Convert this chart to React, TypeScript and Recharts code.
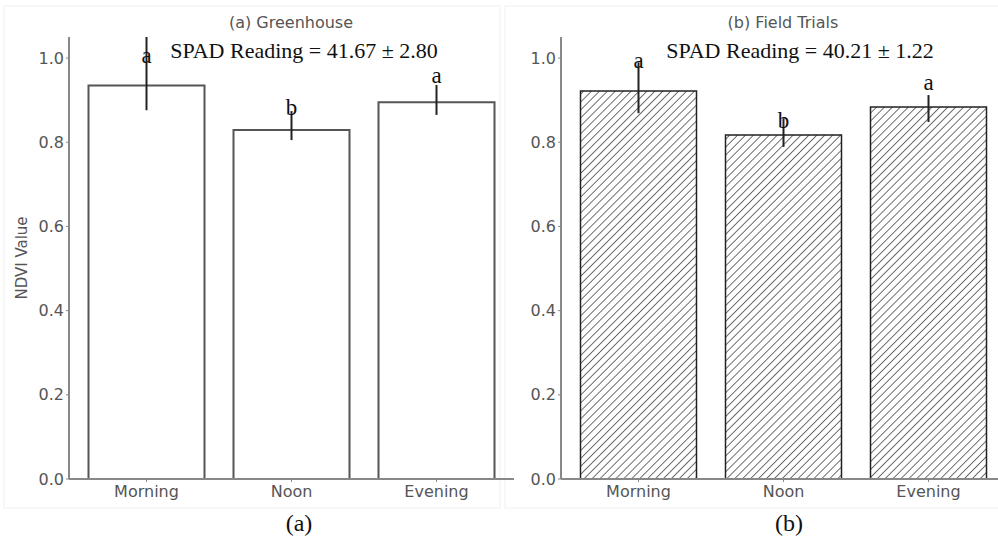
import React from 'react';
import { BarChart, Bar, XAxis, YAxis, ErrorBar, ReferenceDot } from 'recharts';

const categories = ['Morning', 'Noon', 'Evening'];
const greenhouseNdvi = [0.935, 0.829, 0.895];
const greenhouseErrLow = [0.059, 0.024, 0.03];
const greenhouseErrHigh = [0.115, 0.045, 0.041];
const greenhouseLetters = ['a', 'b', 'a'];
const greenhouseLetterY = [0.988, 0.865, 0.941];
const fieldNdvi = [0.922, 0.817, 0.884];
const fieldErrLow = [0.053, 0.028, 0.036];
const fieldErrHigh = [0.068, 0.04, 0.028];
const fieldLetters = ['a', 'b', 'a'];
const fieldLetterY = [0.976, 0.834, 0.924];
const yTicks = [0, 0.2, 0.4, 0.6, 0.8, 1.0];
const panelTitles = ['(a) Greenhouse', '(b) Field Trials'];
const spadTexts = ['SPAD Reading = 41.67 ± 2.80', 'SPAD Reading = 40.21 ± 1.22'];
const panelCaptions = ['(a)', '(b)'];
const yLabel = 'NDVI Value';

const SANS = 'DejaVu Sans';
const SERIF = 'Liberation Serif, Times New Roman, serif';

type PanelProps = {
  left: number;
  values: number[];
  errLow: number[];
  errHigh: number[];
  letters: string[];
  letterY: number[];
  hatched: boolean;
  showYLabel: boolean;
  id: string;
};

function Panel(p: PanelProps) {
  const data = categories.map((name, i) => ({
    name,
    value: p.values[i],
    err: [p.errLow[i], p.errHigh[i]],
  }));
  const tickStyle = { fill: '#555', fontSize: 16, fontFamily: SANS };
  return (
    <div style={{ position: 'absolute', left: p.left, top: 0 }}>
      <BarChart
        width={520}
        height={539}
        data={data}
        margin={{ top: 37, right: 6, bottom: 30, left: 9 }}
        barCategoryGap="10%"
      >
        <defs>
          <pattern
            id={p.id}
            width={5.6}
            height={5.6}
            patternUnits="userSpaceOnUse"
            patternTransform="rotate(45)"
          >
            <rect x={0} y={0} width={5.6} height={5.6} fill="#fff" />
            <line x1={0} y1={0} x2={0} y2={5.6} stroke="#222" strokeWidth={1.3} />
          </pattern>
        </defs>
        <XAxis
          dataKey="name"
          height={30}
          padding={{ left: 5, right: 5 }}
          axisLine={{ stroke: '#888', strokeWidth: 2 }}
          tickLine={{ stroke: '#888' }}
          tickSize={3}
          tickMargin={4}
          tick={tickStyle}
        />
        <YAxis
          type="number"
          domain={[0, 1.05]}
          ticks={yTicks}
          allowDataOverflow
          width={60}
          axisLine={{ stroke: '#888', strokeWidth: 2 }}
          tickLine={{ stroke: '#888' }}
          tickSize={3}
          tick={tickStyle}
          tickFormatter={(v: number) => v.toFixed(1)}
          label={
            p.showYLabel
              ? {
                  value: yLabel,
                  angle: -90,
                  position: 'insideLeft',
                  offset: 0,
                  dx: 13,
                  style: { fill: '#555', fontSize: 15, fontFamily: SANS, textAnchor: 'middle' },
                }
              : undefined
          }
        />
        <Bar
          dataKey="value"
          fill={p.hatched ? `url(#${p.id})` : '#fff'}
          stroke={p.hatched ? '#222' : '#555'}
          strokeWidth={p.hatched ? 1.5 : 2}
          isAnimationActive={false}
        >
          <ErrorBar dataKey="err" width={0} stroke="#222" strokeWidth={2} isAnimationActive={false} />
        </Bar>
        {categories.map((c, i) => (
          <ReferenceDot
            key={c}
            x={c}
            y={p.letterY[i]}
            r={0}
            ifOverflow="visible"
            shape={(sp: any) => (
              <text
                x={sp.cx}
                y={sp.cy}
                textAnchor="middle"
                fontFamily={SERIF}
                fontSize={23}
                fill="#111"
              >
                {p.letters[i]}
              </text>
            )}
          />
        ))}
      </BarChart>
    </div>
  );
}

export default function App() {
  return (
    <div
      style={{
        position: 'absolute',
        left: 0,
        top: 0,
        width: 998,
        height: 539,
        overflow: 'hidden',
        background: '#fff',
      }}
    >
      <svg width={998} height={539} style={{ position: 'absolute', left: 0, top: 0 }}>
        <rect x={4} y={6} width={496} height={502} fill="none" stroke="#f0f0f0" />
        <rect x={505} y={6} width={500} height={502} fill="none" stroke="#f0f0f0" />
      </svg>
      <Panel
        id="hatchA"
        left={0}
        values={greenhouseNdvi}
        errLow={greenhouseErrLow}
        errHigh={greenhouseErrHigh}
        letters={greenhouseLetters}
        letterY={greenhouseLetterY}
        hatched={false}
        showYLabel={true}
      />
      <Panel
        id="hatchB"
        left={492}
        values={fieldNdvi}
        errLow={fieldErrLow}
        errHigh={fieldErrHigh}
        letters={fieldLetters}
        letterY={fieldLetterY}
        hatched={true}
        showYLabel={false}
      />
      <svg width={998} height={539} style={{ position: 'absolute', left: 0, top: 0, pointerEvents: 'none' }}>
        <text x={291} y={28} textAnchor="middle" fontFamily={SANS} fontSize={16} fill="#555">
          {panelTitles[0]}
        </text>
        <text x={783} y={28} textAnchor="middle" fontFamily={SANS} fontSize={16} fill="#555">
          {panelTitles[1]}
        </text>
        <text x={304} y={58} textAnchor="middle" fontFamily={SERIF} fontSize={22} fill="#111">
          {spadTexts[0]}
        </text>
        <text x={800} y={58} textAnchor="middle" fontFamily={SERIF} fontSize={22} fill="#111">
          {spadTexts[1]}
        </text>
        <text x={299} y={531} textAnchor="middle" fontFamily={SERIF} fontSize={24} fill="#111">
          {panelCaptions[0]}
        </text>
        <text x={789} y={531} textAnchor="middle" fontFamily={SERIF} fontSize={24} fill="#111">
          {panelCaptions[1]}
        </text>
      </svg>
    </div>
  );
}
